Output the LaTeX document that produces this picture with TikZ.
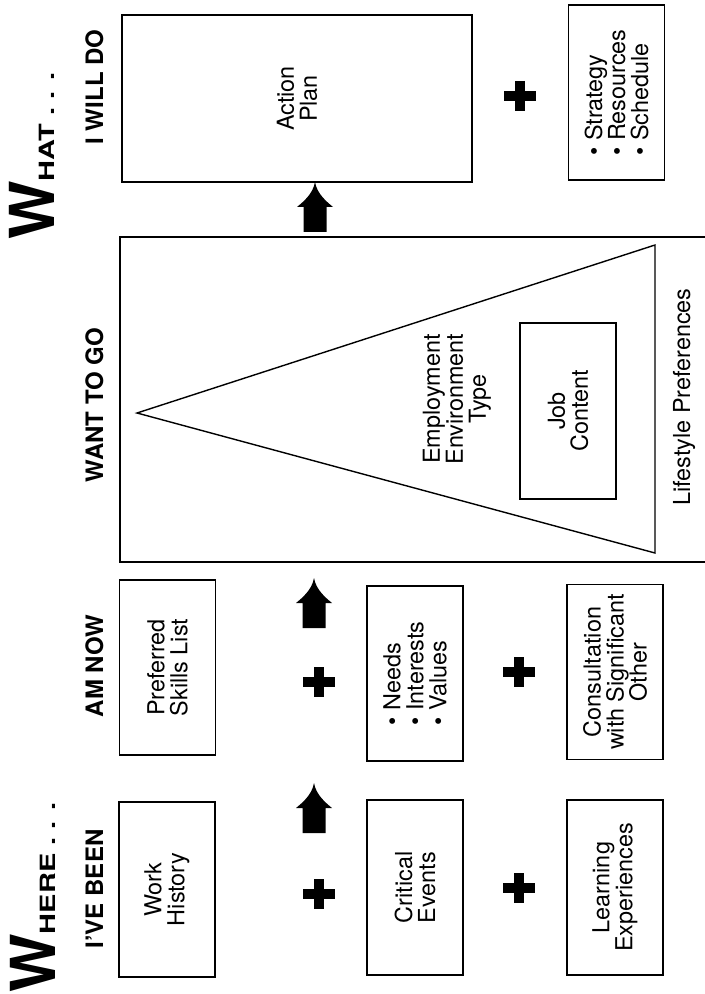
\documentclass[tikz,border=0pt]{standalone}
\usepackage{fontspec}
\setmainfont{TeX Gyre Heros}
\newfontfamily\widehead[FakeStretch=1.38]{TeX Gyre Heros}

\begin{document}
\begin{tikzpicture}[x=0.5pt,y=-0.5pt,
    box/.style={draw,line width=0.7pt,rotate=90,align=center,inner sep=0pt,
        minimum width=87.5pt,minimum height=48pt,font=\fontsize{11.7}{11.5}\selectfont},
    plain/.style={rotate=90,align=center,inner sep=0pt,font=\fontsize{11.7}{11.5}\selectfont},
    heading/.style={rotate=90,anchor=base,inner sep=0pt,font=\fontsize{12}{12}\selectfont\bfseries},
    bigw/.style={rotate=90,anchor=base west,inner sep=0pt},
    plus/.style={line width=4.8pt},
    frame/.style={line width=0.7pt}]
  \useasboundingbox (0,0) rectangle (705,994);

  % titles
  \node [bigw] (where) at (55,993) {\fontsize{31}{31}\selectfont\bfseries W\widehead\fontsize{10.5}{10.5}\selectfont\bfseries HERE . . .};
  \node [bigw] (what) at (54,240) {\fontsize{31}{31}\selectfont\bfseries W\widehead\fontsize{10.5}{10.5}\selectfont\bfseries HAT . . .};
  \node [heading] (been) at (103,889) {I'VE BEEN};
  \node [heading] (now) at (103,666) {AM NOW};
  \node [heading] (go) at (103,405) {WANT TO GO};
  \node [heading] (will) at (103,87) {I WILL DO};

  % where I've been
  \node [box] (work) at (167,889.5) {Work\\History};
  \node [box] (critical) at (415,887.5) {Critical\\Events};
  \node [box] (learning) at (615,887.5) {Learning\\Experiences};
  \draw [plus] (319,894) +(-16,0) -- +(16,0) +(0,-15) -- +(0,15);
  \draw [plus] (519,888) +(-16,0) -- +(16,0) +(0,-15) -- +(0,15);

  % where I am now
  \node [box] (skills) at (167.5,667.5) {Preferred\\Skills List};
  \node [box,align=left] (needs) at (415,673.5) {\textbullet\ Needs\\\textbullet\ Interests\\\textbullet\ Values};
  \node [box] (consult) at (615,672) {Consultation\\with Significant\\Other};
  \draw [plus] (319,682) +(-16,0) -- +(16,0) +(0,-15) -- +(0,15);
  \draw [plus] (519,672) +(-16,0) -- +(16,0) +(0,-15) -- +(0,15);

  % arrows up
  \fill [shift={(314,783)}] (0,0) .. controls (-2,12) and (-12,20) .. (-18,25) -- (-11.5,25) -- (-11.5,50) -- (11.5,50) -- (11.5,25) -- (18,25) .. controls (12,20) and (2,12) .. (0,0) -- cycle;
  \fill [shift={(314,578)}] (0,0) .. controls (-2,12) and (-12,20) .. (-18,25) -- (-11.5,25) -- (-11.5,50) -- (11.5,50) -- (11.5,25) -- (18,25) .. controls (12,20) and (2,12) .. (0,0) -- cycle;

  % where I want to go
  \draw [frame] (705,237) -- (120,237) -- (120,562) -- (705,562);
  \draw [frame] (137,413) -- (655,245) -- (655,553) -- cycle;
  \node [plain] (employ) at (457,399) {Employment\\Environment\\Type};
  \node [box,minimum width=88pt] (job) at (568,411) {Job\\Content};
  \node [plain,anchor=base] (life) at (690,397) {Lifestyle Preferences};

  % arrow up
  \fill [shift={(315,182)}] (0,0) .. controls (-2,12) and (-12,20) .. (-18,25) -- (-11.5,25) -- (-11.5,50) -- (11.5,50) -- (11.5,25) -- (18,25) .. controls (12,20) and (2,12) .. (0,0) -- cycle;

  % what I will do
  \node [box,minimum width=83.5pt,minimum height=175pt] (action) at (297,98.5) {Action\\Plan};
  \node [box,align=left] (strategy) at (616.5,92.5) {\textbullet\ Strategy\\\textbullet\ Resources\\\textbullet\ Schedule};
  \draw [plus] (520,96) +(-16,0) -- +(16,0) +(0,-15) -- +(0,15);
\end{tikzpicture}
\end{document}
